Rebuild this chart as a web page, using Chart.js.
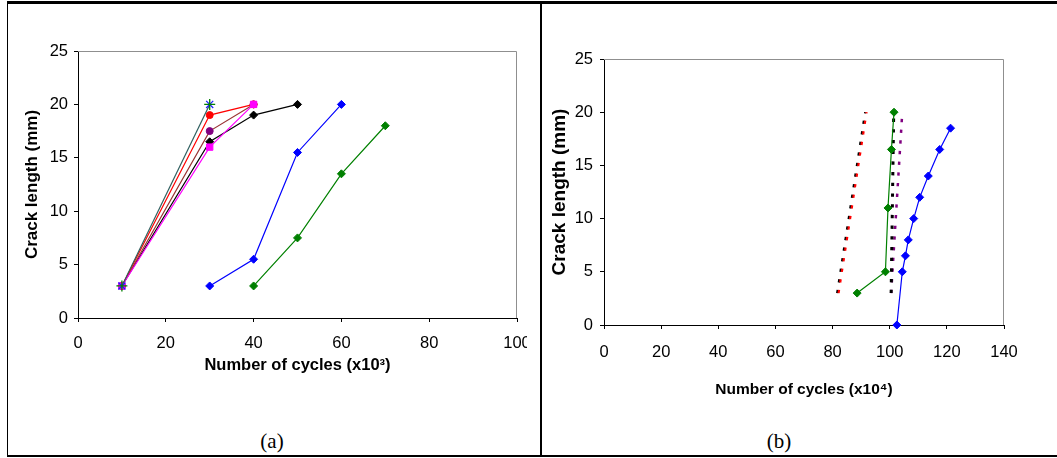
<!DOCTYPE html>
<html>
<head>
<meta charset="utf-8">
<script src="https://cdn.jsdelivr.net/npm/chart.js@4.4.1/dist/chart.umd.min.js"></script>
<style>
  html, body { margin: 0; padding: 0; background: #fff; }
  body { width: 1057px; height: 458px; position: relative; overflow: hidden; }
  .ln { position: absolute; background: #000; }
  canvas { position: absolute; }
  .cap { position: absolute; font-family: 'Liberation Serif', 'Times New Roman', serif; font-size: 21px; color: #000; transform: translate(-50%, -50%); }
</style>
</head>
<body>
<div class="ln" style="left:7px; top:1px; width:1050px; height:3px;"></div>
<div class="ln" style="left:7px; top:2px; width:1px; height:455px;"></div>
<div class="ln" style="left:7px; top:455px; width:1050px; height:2px;"></div>
<div class="ln" style="left:540px; top:2px; width:2px; height:455px;"></div>
<canvas id="ca" width="519" height="410" style="left:8px; top:4px;"></canvas>
<canvas id="cb" width="505" height="410" style="left:545px; top:4px;"></canvas>
<div class="cap" style="left:272px; top:441px;">(a)</div>
<div class="cap" style="left:779px; top:441px;">(b)</div>
<script>
// ---------- Chart (a): crack length vs cycles (x10^3) ----------
const aTicksX = [0, 20, 40, 60, 80, 100];
const aTicksY = [0, 5, 10, 15, 20, 25];
const aTealX = [10, 30];      const aTealY = [3, 20];
const aRedX = [10, 30, 40];   const aRedY = [3, 19, 20];
const aBrownX = [10, 30, 40]; const aBrownY = [3, 17.5, 20];
const aBlackX = [10, 30, 40, 50]; const aBlackY = [3, 16.5, 19, 20];
const aPinkX = [10, 30, 40];  const aPinkY = [3, 16, 20];
const aBlueX = [30, 40, 50, 60];  const aBlueY = [3, 5.5, 15.5, 20];
const aGreenX = [40, 50, 60, 70]; const aGreenY = [3, 7.5, 13.5, 18];

// ---------- Chart (b): crack length vs cycles (x10^4) ----------
const bTicksX = [0, 20, 40, 60, 80, 100, 120, 140];
const bTicksY = [0, 5, 10, 15, 20, 25];
const bBlueX = [102.5, 104.4, 105.5, 106.5, 108.4, 110.5, 113.5, 117.5, 121.3];
const bBlueY = [0, 5, 6.5, 8, 10, 12, 14, 16.5, 18.5];
const bGreenX = [88.6, 98.5, 99.4, 100.6, 101.5];
const bGreenY = [3, 5, 11, 16.5, 20];
const bRedX = [82.1, 91.9];   const bRedY = [3, 20];
const bRedEdgeX = [81.6, 91.4]; const bRedEdgeY = [3, 20];
const bBlackX = [100.5, 101.4]; const bBlackY = [3, 20];
const bPurpleX = [100.5, 104.4]; const bPurpleY = [3, 20];

Chart.defaults.font.family = "'Liberation Sans', Arial, sans-serif";
Chart.defaults.color = '#000';

const pts = (xs, ys) => xs.map((x, i) => ({ x: x, y: ys[i] }));

const framePlugin = {
  id: 'frame',
  beforeDatasetsDraw(c) {
    const a = c.chartArea, ctx = c.ctx;
    ctx.save();
    ctx.strokeStyle = '#8f8f8f';
    ctx.lineWidth = 1;
    ctx.beginPath();
    ctx.moveTo(a.left, a.top + 0.5);
    ctx.lineTo(a.right - 0.5, a.top + 0.5);
    ctx.lineTo(a.right - 0.5, a.bottom);
    ctx.stroke();
    ctx.restore();
  }
};

function solid(data, line, marker, style, r) {
  return { data: data, showLine: true, borderColor: line, borderWidth: 1.2,
    pointStyle: style, pointRadius: r, pointBackgroundColor: marker,
    pointBorderColor: marker, pointBorderWidth: 1, clip: false };
}
function dotted(data, color, w) {
  return { data: data, showLine: true, borderColor: color, borderWidth: w,
    borderDash: [3.3, 7.4], pointRadius: 0, clip: false };
}

function axes(o) {
  return {
    x: {
      type: 'linear', min: o.xmin, max: o.xmax,
      afterBuildTicks: s => { s.ticks = o.xticks.map(v => ({ value: v })); },
      afterFit: s => { s.height = o.xh; s.paddingLeft = 0; s.paddingRight = 0; s.paddingTop = 0; s.paddingBottom = 0; },
      ticks: { autoSkip: false, maxRotation: 0, padding: o.xtp, font: { size: 16.5 }, color: '#000' },
      grid: { drawOnChartArea: false, drawTicks: true, tickLength: 4, color: '#000', lineWidth: 1 },
      border: { display: true, color: '#000', width: 1 },
      title: { display: true, text: o.xtitle, font: { size: o.xts, weight: 'bold' }, color: '#000', padding: { top: 0, bottom: o.xtpad } }
    },
    y: {
      type: 'linear', min: o.ymin, max: o.ymax,
      afterBuildTicks: s => { s.ticks = o.yticks.map(v => ({ value: v })); },
      afterFit: s => { s.width = o.yw; s.paddingLeft = 0; s.paddingRight = 0; s.paddingTop = 0; s.paddingBottom = 0; },
      ticks: { autoSkip: false, padding: o.ytp, font: { size: 16.5 }, color: '#000' },
      grid: { drawOnChartArea: false, drawTicks: true, tickLength: 4, color: '#000', lineWidth: 1 },
      border: { display: true, color: '#000', width: 1 },
      title: { display: true, text: 'Crack length (mm)', font: { size: o.yts, weight: 'bold' }, color: '#000', padding: { top: o.ytpad, bottom: 0 } }
    }
  };
}

new Chart(document.getElementById('ca'), {
  type: 'scatter',
  data: {
    datasets: [
      { data: pts(aTealX, aTealY), showLine: false, pointStyle: 'cross', pointRadius: 5.5, pointBorderColor: '#008000', pointBorderWidth: 1.3, clip: false },
      { data: pts(aTealX, aTealY), showLine: true, borderColor: '#2f5f5f', borderWidth: 1.2, pointStyle: 'crossRot', pointRadius: 5, pointBorderColor: '#2020ff', pointBorderWidth: 1.3, clip: false },
      solid(pts(aPinkX, aPinkY), '#ff00ff', '#ff00ff', 'rect', 4.5),
      solid(pts(aRedX, aRedY), '#ff0000', '#ff0000', 'circle', 3.5),
      solid(pts(aBrownX, aBrownY), '#993333', '#800080', 'circle', 3.5),
      solid(pts(aBlackX, aBlackY), '#000000', '#000000', 'rectRot', 4),
      solid(pts(aBlueX, aBlueY), '#0000ff', '#0000ff', 'rectRot', 4),
      solid(pts(aGreenX, aGreenY), '#008000', '#008000', 'rectRot', 4)
    ]
  },
  options: {
    responsive: false, animation: false, devicePixelRatio: 1,
    layout: { padding: { top: 47, right: 10, bottom: 0, left: 0 } },
    plugins: { legend: { display: false }, tooltip: { enabled: false } },
    scales: axes({ xmin: 0, xmax: 100, ymin: 0, ymax: 25, xticks: aTicksX, yticks: aTicksY,
      xh: 96, yw: 70, xtp: 12, ytp: 6, xtitle: 'Number of cycles (x10³)', xts: 16.5, xtpad: 39, yts: 17, ytpad: 13.8 })
  },
  plugins: [framePlugin]
});

new Chart(document.getElementById('cb'), {
  type: 'scatter',
  data: {
    datasets: [
      solid(pts(bGreenX, bGreenY), '#008000', '#008000', 'rectRot', 4),
      solid(pts(bBlueX, bBlueY), '#0000ff', '#0000ff', 'rectRot', 4),
      dotted(pts(bRedX, bRedY), '#ff0000', 2.2),
      dotted(pts(bRedEdgeX, bRedEdgeY), '#000000', 2.2),
      dotted(pts(bBlackX, bBlackY), '#000000', 3),
      dotted(pts(bPurpleX, bPurpleY), '#800080', 2.5)
    ]
  },
  options: {
    responsive: false, animation: false, devicePixelRatio: 1,
    layout: { padding: { top: 55, right: 46, bottom: 0, left: 0 } },
    plugins: { legend: { display: false }, tooltip: { enabled: false } },
    scales: axes({ xmin: 0, xmax: 140, ymin: 0, ymax: 25, xticks: bTicksX, yticks: bTicksY,
      xh: 89, yw: 59, xtp: 14, ytp: 7, xtitle: 'Number of cycles (x10⁴)', xts: 15.5, xtpad: 14.7, yts: 19, ytpad: 3.6 })
  },
  plugins: [framePlugin]
});
</script>
</body>
</html>
